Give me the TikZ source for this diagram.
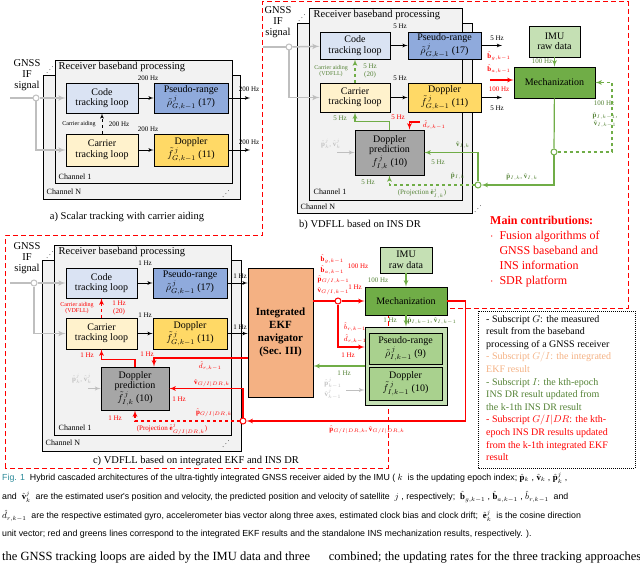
\documentclass[tikz,border=0pt]{standalone}
\usepackage{fontspec}
\usepackage{graphicx}
\setmainfont{Liberation Serif}
\newfontfamily\capfont{Liberation Sans}
\usetikzlibrary{shapes, arrows, positioning}
\definecolor{codeblue}{HTML}{DAE3F3}
\definecolor{prblue}{HTML}{8FAADC}
\definecolor{caryel}{HTML}{FFF2CC}
\definecolor{dopyel}{HTML}{FFD966}
\definecolor{predgray}{HTML}{A6A6A6}
\definecolor{lgreen}{HTML}{C5E0B4}
\definecolor{mgreen}{HTML}{A9D18E}
\definecolor{dgreen}{HTML}{70AD47}
\definecolor{tgreen}{HTML}{548235}
\definecolor{ekforange}{HTML}{F4B183}
\definecolor{sigray}{HTML}{BFBFBF}
\definecolor{chgray}{HTML}{F2F2F2}
\definecolor{figteal}{HTML}{2E8B9A}
\newcommand{\dotsup}{\reflectbox{$\ddots$}}
\begin{document}
\begin{tikzpicture}[x=1pt, y=-1pt, >=latex']

\tikzstyle{block} = [draw, shape=rectangle, thick, align=center, inner sep=0.5pt, font=\fontsize{10}{10.5}\selectfont]
\tikzstyle{hz} = [inner sep=0.5pt, font=\fontsize{7}{7.5}\selectfont, align=center]
\tikzstyle{lbl} = [inner sep=0.5pt, font=\fontsize{10.5}{11}\selectfont, align=center]
\tikzstyle{junc} = [draw, circle, fill=white, inner sep=0pt, minimum size=6pt, line width=1pt]
\tikzstyle{sig} = [draw=sigray, line width=1.5pt]
\tikzstyle{gr} = [draw=dgreen, line width=1.2pt]
\tikzstyle{rd} = [draw=red, line width=1.2pt]
\tikzstyle{chan} = [draw, thick, fill=chgray]

\useasboundingbox (0,0) rectangle (640,564);

%Panel outlines
\draw[red, dashed, line width=1pt, dash pattern=on 5pt off 3pt] (5,468) -- (5,236) -- (262,236) -- (262,2) -- (628,2) -- (628,308) -- (388,308) -- (388,468) -- cycle;
\draw[densely dotted, line width=1pt] (478,311) rectangle (635,468);

%Channel boxes
\draw[chan] (43,75) rectangle (240,199);
\draw[chan] (55,60) rectangle (232,183);
\draw[chan] (297,23) rectangle (472,213);
\draw[chan] (309,8) rectangle (462,200);
\draw[chan] (42,260) rectangle (241,451);
\draw[chan] (54,245) rectangle (231,435);

%Creating Blocks: a) scalar tracking
\node[block, fill=codeblue, minimum width=72pt, minimum height=30pt] (codeA) at (102,98) {Code\\tracking loop};
\node[block, fill=prblue, minimum width=74pt, minimum height=30pt] (prA) at (191,98) {Pseudo-range\\$\tilde{\rho}^{\,j}_{G,k-1}$ (17)};
\node[block, fill=caryel, minimum width=72pt, minimum height=32pt] (carA) at (102,150) {Carrier\\tracking loop};
\node[block, fill=dopyel, minimum width=74pt, minimum height=32pt] (dopA) at (191,150) {Doppler\\$\tilde{f}^{\,j}_{G,k-1}$ (11)};
\node[junc, draw=sigray] (sA) at (36,98) {};
\coordinate (inA) at (10,98);
\coordinate (outA1) at (250,98);
\coordinate (outA2) at (250,150);

\node[lbl] (gnssA) at (27,75) {GNSS\\IF\\signal};
\node[lbl, anchor=west] (rbpA) at (58,67) {Receiver baseband processing};
\node[hz, anchor=west, font=\fontsize{8}{8.5}\selectfont] (ch1A) at (58,177) {Channel 1};
\node[hz, anchor=west, font=\fontsize{8}{8.5}\selectfont] (chNA) at (46,192) {Channel N};
\node[hz] (dotA1) at (50,67) {\dotsup};
\node[hz] (dotA2) at (226,191) {\dotsup};
\node[hz] (hzA1) at (148,78) {200 Hz};
\node[hz] (hzA2) at (148,129) {200 Hz};
\node[hz] (hzA3) at (249,89) {200 Hz};
\node[hz] (hzA4) at (249,142) {200 Hz};
\node[hz, font=\fontsize{6}{6.5}\selectfont] (aidA) at (79,124) {Carrier aiding};
\node[hz] (hzA5) at (119,124) {200 Hz};
\node[lbl] (capA) at (127,217) {a) Scalar tracking with carrier aiding};

%Conecting Blocks
\draw[sig] (inA) -- (sA);
\draw[sig, ->] (sA) -- (codeA);
\draw[sig, ->] (sA) |- (carA.west);
\draw[->, thick] (codeA) -- (prA);
\draw[->, thick] (carA) -- (dopA);
\draw[->, thick] (prA) -- (outA1);
\draw[->, thick] (dopA) -- (outA2);
\draw[->, thick, dashed] (carA) -- (codeA);

%Creating Blocks: b) VDFLL on INS DR
\node[block, fill=codeblue, minimum width=70pt, minimum height=27pt] (codeB) at (355,45.5) {Code\\tracking loop};
\node[block, fill=prblue, minimum width=73pt, minimum height=27pt] (prB) at (444.5,45.5) {Pseudo-range\\$\tilde{\rho}^{\,j}_{G,k-1}$ (17)};
\node[block, fill=caryel, minimum width=70pt, minimum height=29pt] (carB) at (355,97.5) {Carrier\\tracking loop};
\node[block, fill=dopyel, minimum width=73pt, minimum height=29pt] (dopB) at (444.5,97.5) {Doppler\\$\tilde{f}^{\,j}_{G,k-1}$ (11)};
\node[block, fill=predgray, minimum width=69pt, minimum height=45pt] (predB) at (389.5,152.5) {Doppler\\prediction\\$f^{\,j}_{I,k}$ (10)};
\node[block, fill=lgreen, minimum width=51pt, minimum height=31pt] (imuB) at (554.5,41.5) {IMU\\raw data};
\node[block, fill=dgreen, minimum width=81pt, minimum height=31pt] (mechB) at (554.5,82.5) {Mechanization};
\node[junc, draw=sigray] (sB) at (289,47) {};
\node[junc, draw=dgreen] (jB1) at (554,152) {};
\node[junc, draw=dgreen] (jB2) at (478,185) {};
\coordinate (inB) at (263,47);
\coordinate (outB1) at (502,45.5);
\coordinate (outB2) at (502,97.5);
\coordinate (redB) at (490,80);
\coordinate (dB) at (420,122);
\coordinate (gB) at (337,152.5);

\node[lbl] (gnssB) at (278,22) {GNSS\\IF\\signal};
\node[lbl, anchor=west] (rbpB) at (313,15) {Receiver baseband processing};
\node[hz, anchor=west, font=\fontsize{8}{8.5}\selectfont] (ch1B) at (313,192) {Channel 1};
\node[hz, anchor=west, font=\fontsize{8}{8.5}\selectfont] (chNB) at (300,207) {Channel N};
\node[hz] (dotB1) at (302,15) {\dotsup};
\node[hz] (dotB2) at (478,206) {\dotsup};
\node[hz] (hzB1) at (400,26) {5 Hz};
\node[hz] (hzB2) at (400,78) {5 Hz};
\node[hz] (hzB3) at (497,38) {5 Hz};
\node[hz] (hzB4) at (497,108) {5 Hz};
\node[hz, text=tgreen, font=\fontsize{6}{6.5}\selectfont] (aidB) at (331,71) {Carrier aiding\\(VDFLL)};
\node[hz, text=tgreen] (hzB5) at (370,71) {5 Hz\\(20)};
\node[hz, text=tgreen] (hzB6) at (340,118) {5 Hz};
\node[hz, text=red] (hzB7) at (398,117) {5 Hz};
\node[hz, text=red] (dhatB) at (434,125) {$\hat{d}_{r,k-1}$};
\node[hz, text=sigray] (gtxtB) at (331,144) {$\hat{\mathbf p}^j_k$, $\hat{\mathbf v}^j_k$};
\node[hz, text=tgreen] (vB) at (463,145) {$\hat{\mathbf v}_{I,k}$};
\node[hz, text=tgreen] (hzB8) at (438,162) {5 Hz};
\node[hz, text=tgreen] (pB) at (458,176) {$\hat{\mathbf p}_{I,k}$};
\node[hz, text=tgreen] (hzB9) at (368,182) {5 Hz};
\node[hz, text=tgreen] (projB) at (422,193) {(Projection $\hat{\mathbf e}^j_{I,k}$)};
\node[hz, text=tgreen] (pvB) at (522,177) {$\hat{\mathbf p}_{I,k}$, $\hat{\mathbf v}_{I,k}$};
\node[hz, text=red] (bgB) at (499,56) {$\hat{\mathbf b}_{g,k-1}$};
\node[hz, text=red] (baB) at (499,69) {$\hat{\mathbf b}_{a,k-1}$};
\node[hz, text=red] (hzB10) at (499,89) {100 Hz};
\node[hz, text=tgreen] (hzB11) at (542,61) {100 Hz};
\node[hz, text=tgreen] (hzB12) at (604,103) {100 Hz};
\node[hz, text=tgreen] (pvB2) at (605,120) {$\hat{\mathbf p}_{I,k-1}$,\\$\hat{\mathbf v}_{I,k-1}$};
\node[lbl] (capB) at (360,225) {b) VDFLL based on INS DR};

%Conecting Blocks
\draw[sig] (inB) -- (sB);
\draw[sig, ->] (sB) -- (codeB);
\draw[sig, ->] (sB) |- (carB.west);
\draw[->, thick] (codeB) -- (prB);
\draw[->, thick] (carB) -- (dopB);
\draw[->, thick] (prB) -- (outB1);
\draw[->, thick] (dopB) -- (outB2);
\draw[gr, ->, dashed] (carB) -- (codeB);
\draw[gr, ->] (imuB) -- (mechB);
\draw[rd, ->] (redB) -- (mechB.west |- redB);
\draw[gr] (mechB) -- (jB1);
\draw[gr, ->] (jB1) |- (jB2);
\draw[gr, dashed, ->] (jB1) -- ++(58,0) |- (mechB.east);
\draw[gr, ->] (jB2) |- (predB.east);
\draw[gr, dashed, ->] (jB2) -| (predB.south);
\draw[gr, ->] (predB.north) -- ++(0,-8) -| (carB.south);
\draw[rd, ->] (dB) -| ([xshift=20pt]predB.north);
\draw[sig, ->, line width=1pt] (gB) -- (predB.west);

%Creating Blocks: c) VDFLL on integrated EKF
\node[block, fill=codeblue, minimum width=71pt, minimum height=30pt] (codeC) at (101.5,283) {Code\\tracking loop};
\node[block, fill=prblue, minimum width=74pt, minimum height=30pt] (prC) at (190,283) {Pseudo-range\\$\tilde{\rho}^{\,j}_{G,k-1}$ (17)};
\node[block, fill=caryel, minimum width=71pt, minimum height=31pt] (carC) at (101.5,333.5) {Carrier\\tracking loop};
\node[block, fill=dopyel, minimum width=74pt, minimum height=31pt] (dopC) at (190,333.5) {Doppler\\$\tilde{f}^{\,j}_{G,k-1}$ (11)};
\node[block, fill=predgray, minimum width=68pt, minimum height=43pt] (predC) at (135,388.5) {Doppler\\prediction\\$\tilde{f}^{\,j}_{I,k}$ (10)};
\node[block, fill=ekforange, minimum width=65pt, minimum height=129pt, font=\bfseries\fontsize{11}{13}\selectfont] (ekf) at (280.5,332.5) {Integrated\\EKF\\navigator\\(Sec. III)};
\node[block, fill=lgreen, minimum width=52pt, minimum height=26pt] (imuC) at (406,260) {IMU\\raw data};
\node[block, fill=dgreen, minimum width=82pt, minimum height=28pt] (mechC) at (406,301) {Mechanization};
\node[block, fill=lgreen, minimum width=82pt, minimum height=78pt] (insC) at (406,366) {};
\node[block, fill=mgreen, minimum width=73pt, minimum height=31pt] (prI) at (405.5,348.5) {Pseudo-range\\$\tilde{\rho}^{\,j}_{I,k-1}$ (9)};
\node[block, fill=mgreen, minimum width=73pt, minimum height=33pt] (dopI) at (405.5,383.5) {Doppler\\$\tilde{f}^{\,j}_{I,k-1}$ (10)};
\node[junc, draw=sigray] (sC) at (34,283) {};
\node[junc, draw=red] (jC) at (243,421) {};
\node[junc, draw=red] (jR) at (338,301) {};
\coordinate (inC) at (10,283);
\coordinate (gC) at (88,388.5);
\coordinate (gC2) at (346,390);

\node[lbl] (gnssC) at (27,258) {GNSS\\IF\\signal};
\node[lbl, anchor=west] (rbpC) at (58,252) {Receiver baseband processing};
\node[hz, anchor=west, font=\fontsize{8}{8.5}\selectfont] (ch1C) at (58,428) {Channel 1};
\node[hz, anchor=west, font=\fontsize{8}{8.5}\selectfont] (chNC) at (45,443) {Channel N};
\node[hz] (dotC1) at (50,252) {\dotsup};
\node[hz] (dotC2) at (226,441) {\dotsup};
\node[hz] (hzC1) at (145,263) {1 Hz};
\node[hz] (hzC2) at (145,315) {1 Hz};
\node[hz] (hzC3) at (240,276) {1 Hz};
\node[hz] (hzC4) at (240,327) {1 Hz};
\node[hz, text=red, font=\fontsize{6}{6.5}\selectfont] (aidC) at (77,308) {Carrier aiding\\(VDFLL)};
\node[hz, text=red] (hzC5) at (119,308) {1 Hz\\(20)};
\node[hz, text=red] (hzC6) at (87,355) {1 Hz};
\node[hz, text=red] (hzC7) at (147,354) {1 Hz};
\node[hz, text=red] (dhatC) at (210,366) {$\hat{d}_{r,k-1}$};
\node[hz, text=red] (vC) at (212,383) {$\hat{\mathbf v}_{G/I|DR,k}$};
\node[hz, text=red] (hzC8) at (179,399) {1 Hz};
\node[hz, text=red] (pC) at (214,413) {$\hat{\mathbf p}_{G/I|DR,k}$};
\node[hz, text=red] (hzC9) at (115,418) {1 Hz};
\node[hz, text=red] (projC) at (172,429) {(Projection $\hat{\mathbf e}^j_{G/I|DR,k}$)};
\node[hz, text=sigray] (gtxtC) at (82,379) {$\hat{\mathbf p}^j_k$, $\hat{\mathbf v}^j_k$};
\node[hz, text=red, anchor=west] (bgC) at (320,259) {$\hat{\mathbf b}_{g,k-1}$};
\node[hz, text=red] (hzC10) at (358,266) {100 Hz};
\node[hz, text=red, anchor=west] (baC) at (320,270) {$\hat{\mathbf b}_{a,k-1}$};
\node[hz, text=red, anchor=west] (pGC) at (317,280) {$\hat{\mathbf p}_{G/I,k-1}$};
\node[hz, text=red] (hzC11) at (355,287) {1 Hz};
\node[hz, text=red, anchor=west] (vGC) at (317,291) {$\hat{\mathbf v}_{G/I,k-1}$};
\node[hz, text=red] (brC) at (355,327) {$\hat{b}_{r,k-1}$};
\node[hz, text=red] (drC) at (355,339) {$\hat{d}_{r,k-1}$};
\node[hz, text=red] (hzC12) at (348,355) {1 Hz};
\node[hz, text=tgreen] (hzC13) at (344,373) {1 Hz};
\node[hz, text=sigray] (gtxtC2) at (333,389) {$\hat{\mathbf p}^j_{k-1}$\\$\hat{\mathbf v}^j_{k-1}$};
\node[hz, text=tgreen] (hzC14) at (378,280) {100 Hz};
\node[hz, text=tgreen] (hzC15) at (390,320) {1 Hz};
\node[hz, text=tgreen] (pvC) at (432,321) {$\hat{\mathbf p}_{I,k-1}$, $\hat{\mathbf v}_{I,k-1}$};
\node[hz, text=red] (pvRC) at (367,430) {$\hat{\mathbf p}_{G/I|DR,k}$, $\hat{\mathbf v}_{G/I|DR,k}$};
\node[lbl] (capC) at (196,461) {c) VDFLL based on integrated EKF and INS DR};

%Conecting Blocks
\draw[sig] (inC) -- (sC);
\draw[sig, ->] (sC) -- (codeC);
\draw[sig, ->] (sC) |- (carC.west);
\draw[->, thick] (codeC) -- (prC);
\draw[->, thick] (carC) -- (dopC);
\draw[->, thick] (prC) -- (ekf.west |- prC);
\draw[->, thick] (dopC) -- (ekf.west |- dopC);
\draw[rd, ->, dashed] (carC) -- (codeC);
\draw[rd, ->] ([yshift=-25.5pt]ekf.west) -| ([xshift=19pt]predC.north);
\draw[rd, ->] (predC.north) -- ++(0,-7) -| (carC.south);
\draw[rd, ->] (jC) |- (predC.east);
\draw[rd, dashed, ->] (jC) -| (predC.south);
\draw[rd] ([yshift=31.5pt]ekf.east) -- (jR);
\draw[rd, ->] (jR) -- (mechC);
\draw[rd, ->] (jR) |- ([yshift=19pt]insC.west);
\draw[rd, ->] (mechC.east) -- ++(18,0) |- (jC);
\draw[gr, ->] (insC.west) -- (ekf.east |- insC.west);
\draw[gr, ->] (imuC) -- (mechC);
\draw[gr, ->] (mechC) -- (insC);
\draw[sig, ->, line width=1pt] (gC) -- (predC.west);
\draw[sig, ->, line width=1pt] (gC2) -- (insC.west |- gC2);

%Side texts
\node[anchor=west, inner sep=0pt, text=red, font=\bfseries\fontsize{12}{14}\selectfont] (contrib) at (490,220) {Main contributions:};
\node[anchor=north west, inner sep=0pt, text=red, align=left, font=\fontsize{12}{15}\selectfont] (bullets) at (490,231) {$\cdot$\ \ Fusion algorithms of\\\phantom{$\cdot$\ \ }GNSS baseband and\\\phantom{$\cdot$\ \ }INS information\\$\cdot$\ \ SDR platform};
\node[anchor=north west, inner sep=0pt, align=left, font=\fontsize{10}{12.6}\selectfont] (notes) at (486,315) {- Subscript $G$: the measured\\result from the baseband\\processing of a GNSS receiver\\\textcolor{ekforange}{- Subscript $G/I$: the integrated}\\\textcolor{ekforange}{EKF result}\\\textcolor{tgreen}{- Subscript $I$: the kth-epoch}\\\textcolor{tgreen}{INS DR result updated from}\\\textcolor{tgreen}{the k-1th INS DR result}\\\textcolor{red}{- Subscript $G/I|DR$: the kth-}\\\textcolor{red}{epoch INS DR results updated}\\\textcolor{red}{from the k-1th integrated EKF}\\\textcolor{red}{result}};

%Caption
\node[anchor=west, inner sep=0pt, font=\capfont\fontsize{8.8}{9}\selectfont] (fig1) at (2,478) {\textcolor{figteal}{Fig. 1}\ \ Hybrid cascaded architectures of the ultra-tightly integrated GNSS receiver aided by the IMU ( $k$ \ is the updating epoch index; $\hat{\mathbf p}_k$ , $\hat{\mathbf v}_k$ , $\hat{\mathbf p}^j_k$ ,};
\node[anchor=west, inner sep=0pt, font=\capfont\fontsize{8.8}{9}\selectfont] (fig2) at (2,497) {and \ $\hat{\mathbf v}^j_k$ \ are the estimated user's position and velocity, the predicted position and velocity of satellite \ $j$ , respectively; \ $\hat{\mathbf b}_{g,k-1}$ , $\hat{\mathbf b}_{a,k-1}$ , $\hat{b}_{r,k-1}$ \ and};
\node[anchor=west, inner sep=0pt, font=\capfont\fontsize{8.8}{9}\selectfont] (fig3) at (2,516) {$\hat{d}_{r,k-1}$ \ are the respective estimated gyro, accelerometer bias vector along three axes, estimated clock bias and clock drift; \ $\hat{\mathbf e}^j_k$ \ is the cosine direction};
\node[anchor=west, inner sep=0pt, font=\capfont\fontsize{8.8}{9}\selectfont] (fig4) at (2,534) {unit vector; red and greens lines correspond to the integrated EKF results and the standalone INS mechanization results, respectively. ).};
\node[anchor=west, inner sep=0pt, font=\fontsize{12.5}{13}\selectfont] (fig5) at (2,557) {the GNSS tracking loops are aided by the IMU data and three \quad\ combined; the updating rates for the three tracking approaches};
\end{tikzpicture}
\end{document}
